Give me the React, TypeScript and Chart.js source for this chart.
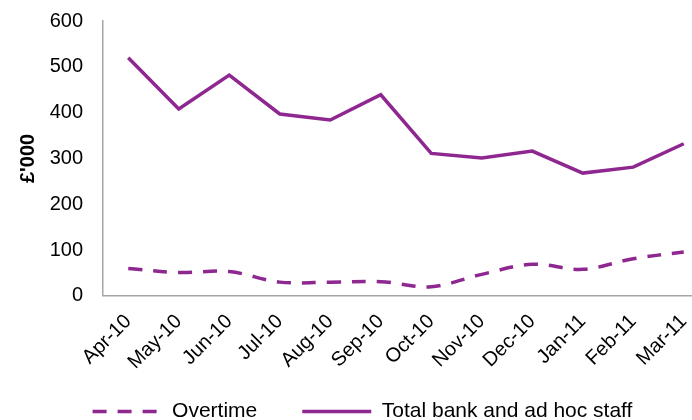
import React, { useEffect, useRef } from "react";
import { Chart, registerables } from "chart.js";

Chart.register(...registerables);

const months = ["Apr-10", "May-10", "Jun-10", "Jul-10", "Aug-10", "Sep-10", "Oct-10", "Nov-10", "Dec-10", "Jan-11", "Feb-11", "Mar-11"];
const overtime = [60, 51, 53, 30, 30, 31, 20, 47, 69, 58, 81, 96];
const totalBank = [520, 408, 482, 397, 384, 439, 311, 301, 316, 268, 281, 332];
const yMin = 0;
const yMax = 600;
const yStep = 100;
const yTitle = "£'000";
const seriesNames = ["Overtime", "Total bank and ad hoc staff"];

const PURPLE = "#8E278F";
const AXIS = "#A6A6A6";
const FONT = "'Liberation Sans', Arial, sans-serif";
const DASH = [14, 11];

// move the legend up a little while keeping its clip box down to the canvas bottom
const legendNudge = {
  id: "legendNudge",
  afterLayout(chart: any) {
    const lg = chart.legend;
    if (lg) lg.top -= 18;
  },
};

export default function App() {
  const ref = useRef<HTMLCanvasElement | null>(null);
  useEffect(() => {
    if (!ref.current) return;
    const chart = new Chart(ref.current, {
      type: "line",
      data: {
        labels: months,
        datasets: [
          {
            label: seriesNames[0],
            data: overtime,
            borderColor: PURPLE,
            backgroundColor: PURPLE,
            borderWidth: 3.5,
            borderDash: DASH,
            borderCapStyle: "butt",
            tension: 0.35,
            pointRadius: 0,
            fill: false,
          },
          {
            label: seriesNames[1],
            data: totalBank,
            borderColor: PURPLE,
            backgroundColor: PURPLE,
            borderWidth: 3.5,
            tension: 0,
            pointRadius: 0,
            fill: false,
          },
        ],
      },
      options: {
        responsive: false,
        animation: false,
        layout: { padding: { left: 16, right: 0, top: 21, bottom: 0 } },
        plugins: {
          tooltip: { enabled: false },
          legend: {
            position: "bottom",
            maxHeight: 46,
            labels: {
              usePointStyle: true,
              pointStyle: "line",
              pointStyleWidth: 69,
              boxHeight: 21,
              padding: 45,
              color: "#000",
              font: { family: FONT, size: 21 },
              generateLabels(c: any) {
                const items = Chart.defaults.plugins.legend.labels.generateLabels(c);
                return items.map((it: any) => {
                  const ds: any = c.data.datasets[it.datasetIndex];
                  return {
                    ...it,
                    lineDash: ds.borderDash || [],
                    lineWidth: 3.5,
                    strokeStyle: ds.borderColor,
                    fillStyle: ds.borderColor,
                    pointStyle: "line",
                  };
                });
              },
            },
          },
        },
        scales: {
          x: {
            offset: true,
            grid: { display: true, drawOnChartArea: false, drawTicks: true, tickLength: 14, color: "rgba(0,0,0,0)" },
            border: { display: true, color: AXIS, width: 1.5 },
            ticks: {
              color: "#000",
              font: { family: FONT, size: 20 },
              minRotation: 45,
              maxRotation: 45,
              padding: 0,
              autoSkip: false,
            },
          },
          y: {
            min: yMin,
            max: yMax,
            afterFit(scale: any) {
              scale.width = 87;
            },
            grid: { display: true, drawOnChartArea: false, drawTicks: true, tickLength: 20, color: "rgba(0,0,0,0)" },
            border: { display: true, color: AXIS, width: 1.5 },
            ticks: {
              stepSize: yStep,
              color: "#000",
              font: { family: FONT, size: 20 },
              padding: 0,
            },
            title: {
              display: true,
              text: yTitle,
              color: "#000",
              font: { family: FONT, size: 20, weight: "bold" },
              padding: { top: 0, bottom: 8 },
            },
          },
        },
      },
      plugins: [legendNudge],
    });
    return () => chart.destroy();
  }, []);
  return (
    <div style={{ position: "fixed", left: 0, top: 0, width: 692, height: 420, overflow: "hidden", background: "#fff" }}>
      <canvas ref={ref} width={709} height={420} style={{ display: "block" }} />
    </div>
  );
}
